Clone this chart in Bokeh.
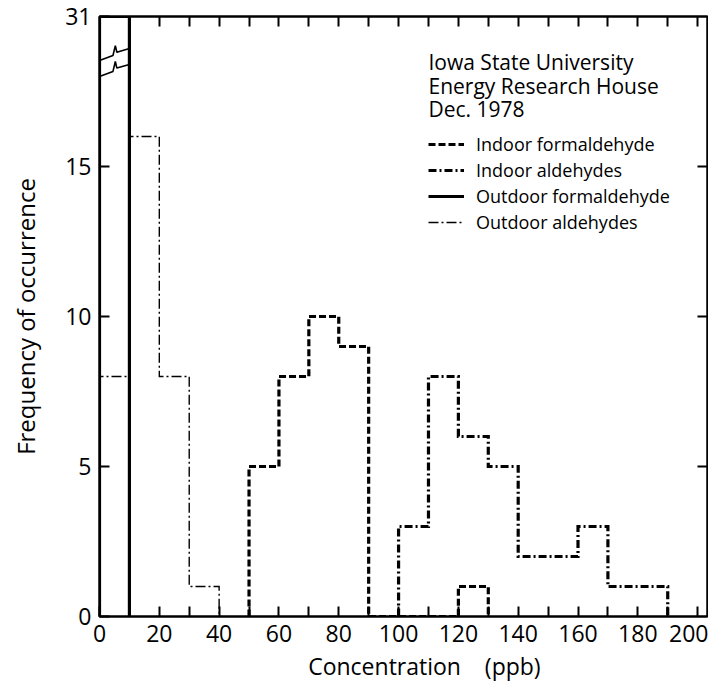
from bokeh.plotting import figure
from bokeh.models import Range1d, FixedTicker, LinearAxis, Legend, LegendItem, Label
from bokeh.embed import file_html
from bokeh.resources import INLINE

# ---------------- data ----------------
BIN_EDGES = [0, 10, 20, 30, 40, 50, 60, 70, 80, 90, 100,
             110, 120, 130, 140, 150, 160, 170, 180, 190, 200]
INDOOR_FORMALDEHYDE = [0, 0, 0, 0, 0, 5, 8, 10, 9, 0, 0, 0, 1, 0, 0, 0, 0, 0, 0, 0]
INDOOR_ALDEHYDES = [0, 0, 0, 0, 0, 0, 0, 0, 0, 0, 3, 8, 6, 5, 2, 2, 3, 1, 1, 0]
OUTDOOR_FORMALDEHYDE = [31, 0, 0, 0, 0, 0, 0, 0, 0, 0, 0, 0, 0, 0, 0, 0, 0, 0, 0, 0]
OUTDOOR_ALDEHYDES = [8, 16, 8, 1, 0, 0, 0, 0, 0, 0, 0, 0, 0, 0, 0, 0, 0, 0, 0, 0]

X_LABEL_TICKS = [0, 20, 40, 60, 80, 100, 120, 140, 160, 180, 200]
X_MINOR_TICKS = [10, 30, 50, 70, 90, 110, 130, 150, 170, 190]
X_TOP_TICKS = [10, 20, 30, 40, 50, 60, 70, 80, 90, 100, 110, 120, 130, 140,
               150, 160, 170, 180, 190, 200]
Y_TICKS = [0, 5, 10, 15, 20]
Y_LABELS = ["0", "5", "10", "15", "31"]   # broken axis: top of axis is 31
Y_RIGHT_TICKS = [5, 10, 15]
Y_TOP = 20          # drawn height of the broken-axis top
Y_BREAK_ABOVE = 18  # counts above this are drawn at Y_TOP

FONT = "Open Sans"

TITLE = "CONCENTRATIONS"
HEADER = ["Iowa State University", "Energy Research House", "Dec. 1978"]
SERIES_NAMES = ["Indoor formaldehyde", "Indoor aldehydes",
                "Outdoor formaldehyde", "Outdoor aldehydes"]


def disp(v):
    return Y_TOP if v > Y_BREAK_ABOVE else v


def step_xy(counts):
    nz = [i for i, c in enumerate(counts) if c > 0]
    i0, i1 = nz[0], nz[-1]
    xs, ys = [BIN_EDGES[i0]], [0]
    for i in range(i0, i1 + 1):
        v = disp(counts[i])
        xs += [BIN_EDGES[i], BIN_EDGES[i + 1]]
        ys += [v, v]
    xs.append(BIN_EDGES[i1 + 1])
    ys.append(0)
    return xs, ys


p = figure(width=708, height=684, x_range=Range1d(0, 203.3), y_range=Range1d(0, Y_TOP),
           output_backend="svg", toolbar_location=None,
           min_border_left=99, min_border_right=1, min_border_top=16, min_border_bottom=67)
p.xgrid.visible = False
p.ygrid.visible = False
p.outline_line_color = "black"
p.outline_line_width = 2
p.background_fill_color = "white"
p.border_fill_color = "white"

# bottom axis
xa = p.xaxis[0]
xa.ticker = FixedTicker(ticks=X_LABEL_TICKS, minor_ticks=X_MINOR_TICKS)
xa.axis_label = "\u00a0" * 7 + "Concentration\u00a0\u00a0\u00a0\u00a0(ppb)"
# left axis
ya = p.yaxis[0]
ya.ticker = FixedTicker(ticks=Y_TICKS, minor_ticks=[])
ya.major_label_overrides = {t: l for t, l in zip(Y_TICKS, Y_LABELS)}
ya.axis_label = "Frequency of occurrence"

for ax in (xa, ya):
    ax.major_tick_in = 10
    ax.major_tick_out = 0
    ax.minor_tick_in = 10
    ax.minor_tick_out = 0
    ax.axis_line_width = 2
    ax.major_tick_line_width = 2
    ax.minor_tick_line_width = 2
    ax.major_label_text_font = FONT
    ax.major_label_text_font_size = "23px"
    ax.major_label_text_color = "black"
    ax.axis_label_text_font = FONT
    ax.axis_label_text_font_size = "23px"
    ax.axis_label_text_font_style = "normal"
    ax.axis_label_text_color = "black"
ya.axis_label_text_font_size = "24px"
xa.major_label_standoff = 8
xa.axis_label_standoff = 5
ya.major_label_standoff = 8
ya.axis_label_standoff = 20

# top and right tick-only axes (labels not drawn)
top = LinearAxis(ticker=FixedTicker(ticks=X_TOP_TICKS, minor_ticks=[]),
                 major_label_text_font_size="1px", major_label_text_color=None,
                 major_label_standoff=0,
                 major_tick_in=10, major_tick_out=0, minor_tick_in=0, minor_tick_out=0,
                 axis_line_width=2, major_tick_line_width=2)
right = LinearAxis(ticker=FixedTicker(ticks=Y_RIGHT_TICKS, minor_ticks=[]),
                   major_label_text_font_size="1px", major_label_text_color=None,
                   major_label_standoff=0,
                   major_tick_in=10, major_tick_out=0, minor_tick_in=0, minor_tick_out=0,
                   axis_line_width=2, major_tick_line_width=2)
p.add_layout(top, "above")
p.add_layout(right, "right")

# series
styles = [
    dict(line_width=3.2, line_dash="7 3"),            # indoor formaldehyde
    dict(line_width=3.2, line_dash="8 3 2 3"),        # indoor aldehydes
    dict(line_width=3.2, line_dash="solid"),          # outdoor formaldehyde
    dict(line_width=1.4, line_dash="10 3 2 3"),       # outdoor aldehydes
]
renderers = []
for counts, st in zip([INDOOR_FORMALDEHYDE, INDOOR_ALDEHYDES,
                       OUTDOOR_FORMALDEHYDE, OUTDOOR_ALDEHYDES], styles):
    xs, ys = step_xy(counts)
    r = p.line(xs, ys, line_color="black", line_join="miter", **st)
    renderers.append(r)

# axis-break zigzags in the first bin
ZIG_X = [0, 4.5, 5.3, 5.8, 10]
ZIG_DY = [0, 0.17, 0.5, 0.28, 0.4]
for base in (18.0, 18.53):
    p.line(ZIG_X, [base + d for d in ZIG_DY], line_color="black", line_width=1.6)

legend = Legend(items=[LegendItem(label=n, renderers=[r]) for n, r in zip(SERIES_NAMES, renderers)],
                location=(329, 382), glyph_width=36, glyph_height=20, label_height=20,
                spacing=2, padding=0, margin=0, label_standoff=12,
                label_text_font=FONT, label_text_font_size="18px", label_text_color="black",
                border_line_color=None, background_fill_alpha=0)
p.add_layout(legend)

for txt, yv in zip(HEADER, [18.5, 17.7, 16.93]):
    p.add_layout(Label(x=110, y=yv, text=txt, text_font=FONT, text_font_size="21px",
                       text_baseline="middle", text_color="black"))

# title (cut off at the top edge, as in the source scan)
p.add_layout(Label(x=107.4, y=Y_TOP + 0.47, text=TITLE, text_font=FONT, text_font_size="26px",
                   text_align="center", text_baseline="alphabetic", text_color="black"))

file = open("out.html", "w")
file.write(file_html(p, INLINE))
file.close()
